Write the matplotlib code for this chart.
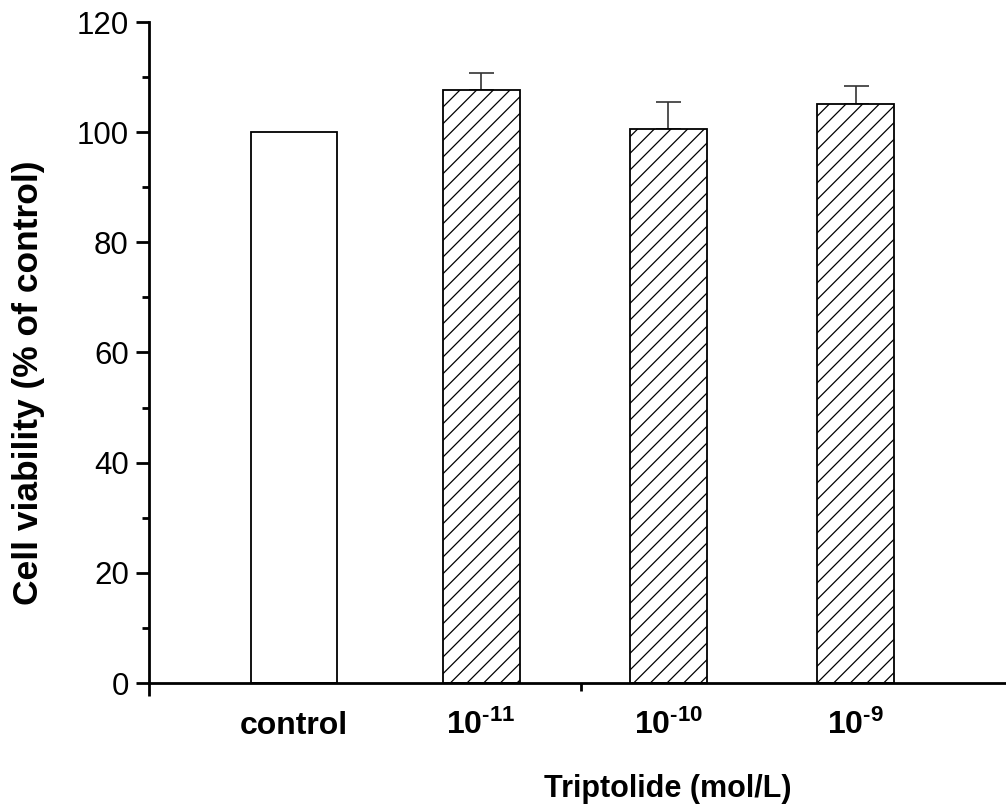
import numpy as np
import matplotlib
matplotlib.use("Agg")
import matplotlib.pyplot as plt

plt.rcParams['font.family'] = ['Liberation Sans', 'DejaVu Sans']
plt.rcParams['mathtext.fontset'] = 'custom'
plt.rcParams['mathtext.rm'] = 'Liberation Sans:bold'
plt.rcParams['mathtext.bf'] = 'Liberation Sans:bold'
plt.rcParams['mathtext.default'] = 'regular'
plt.rcParams['hatch.linewidth'] = 0.9

# data
groups = ['control', r'10$^{\text{-}11}$', r'10$^{\text{-}10}$', r'10$^{\text{-}9}$']
viability = [100.0, 107.7, 100.6, 105.1]
err_up = [0.0, 3.0, 4.9, 3.3]
hatches = ['', '//', '//', '//']

fig = plt.figure(figsize=(10.06, 8.05), dpi=100)
ax = fig.add_axes([149/1006, 122/805, 857/1006, 661/805])

x = np.arange(len(groups))
widths = [0.46, 0.41, 0.41, 0.41]
for i in range(len(groups)):
    ax.bar(x[i], viability[i], width=widths[i], color='white', edgecolor='black',
           linewidth=1.3, hatch=hatches[i], zorder=2)
    if err_up[i] > 0:
        ax.errorbar(x[i], viability[i], yerr=[[0], [err_up[i]]], fmt='none',
                    ecolor='#333333', elinewidth=1.2, capsize=9, capthick=1.2, zorder=1)

ax.set_xlim(-0.773, 3.802)
ax.set_ylim(0, 120)

for s in ['top', 'right']:
    ax.spines[s].set_visible(False)
for s in ['left', 'bottom']:
    ax.spines[s].set_linewidth(2.0)

ax.set_yticks(np.arange(0, 121, 20))
ax.set_yticks(np.arange(10, 120, 20), minor=True)
ax.tick_params(axis='y', which='major', length=9.5, width=2.0, labelsize=22.5, pad=5)
ax.tick_params(axis='y', which='minor', length=5, width=2.0)

ax.set_xticks([-0.773])
ax.set_xticklabels([])
ax.set_xticks([1.533], minor=True)
ax.tick_params(axis='x', which='major', length=9.5, width=2.0)
ax.tick_params(axis='x', which='minor', length=5.5, width=2.0)

trans = ax.get_xaxis_transform()
for i, g in enumerate(groups):
    ax.text(x[i], -0.077, g, transform=trans, ha='center', va='baseline',
            fontsize=23, fontweight='bold')

fig.text(668/1006, 8/805, 'Triptolide (mol/L)', ha='center', va='baseline',
         fontsize=22, fontweight='bold')
fig.text(29/1006, (805-383)/805, 'Cell viability (% of control)', rotation=90,
         ha='center', va='center', fontsize=25.5, fontweight='bold')

fig.savefig('out.png', dpi=100)
